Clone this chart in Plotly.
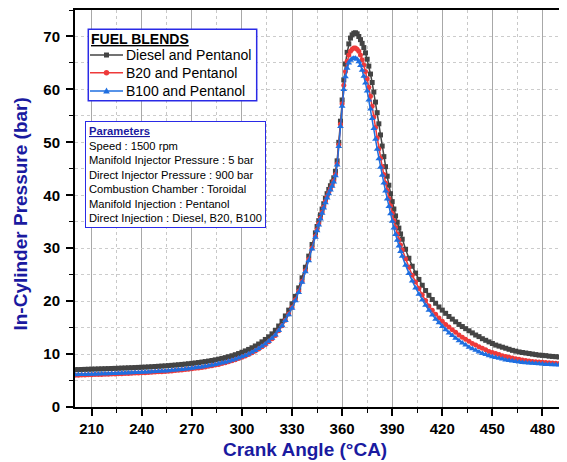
import plotly.graph_objects as go

# Crank angle grid (deg CA): 2-deg steps, 1-deg steps around combustion, 2-deg steps after
crank_angle = list(range(200, 345, 2)) + list(range(345, 397)) + list(range(398, 497, 2))

diesel_pentanol = [
    # 200-344 (2 deg)
    7.05, 7.07, 7.09, 7.11, 7.13, 7.15, 7.17, 7.19, 7.21, 7.23,
    7.25, 7.27, 7.30, 7.32, 7.35, 7.37, 7.40, 7.42, 7.45, 7.48,
    7.51, 7.54, 7.57, 7.61, 7.65, 7.69, 7.73, 7.77, 7.82, 7.87,
    7.92, 7.98, 8.04, 8.10, 8.17, 8.24, 8.32, 8.40, 8.49, 8.58,
    8.68, 8.79, 8.91, 9.04, 9.18, 9.33, 9.50, 9.68, 9.88, 10.10,
    10.34, 10.60, 10.88, 11.19, 11.53, 11.90, 12.31, 12.76, 13.26, 13.82,
    14.45, 15.3, 16.2, 17.2, 18.3, 19.5, 20.9, 22.5, 24.4, 26.4,
    28.5, 30.7, 32.9,
    # 345-396 (1 deg)
    34.1, 35.2, 36.3, 37.4, 38.4, 39.4, 40.3, 41.1, 41.8, 42.5, 43.3, 44.5, 46.5,
    50.0, 54.0, 58.0, 61.8, 64.8, 67.0, 68.6, 69.7, 70.3, 70.6,
    70.7, 70.5, 70.0, 69.4, 68.7, 67.9, 66.9, 65.7, 64.4, 62.9,
    61.3, 59.5, 57.6, 55.6, 53.5, 51.4, 49.3, 47.3, 45.4, 43.6,
    41.9, 40.3, 38.8, 37.4, 36.1, 34.9, 33.8, 32.7, 31.7,
    # 398-496 (2 deg)
    29.8, 28.1, 26.6, 25.3, 24.1, 23.0, 22.0, 21.1, 20.3, 19.6,
    18.9, 18.3, 17.7, 17.1, 16.6, 16.1, 15.6, 15.2, 14.8, 14.4,
    14.0, 13.6, 13.3, 12.9, 12.6, 12.3, 12.0, 11.7, 11.5, 11.3,
    11.1, 10.9, 10.7, 10.55, 10.4, 10.3, 10.2, 10.1, 10.0, 9.9,
    9.8, 9.75, 9.7, 9.6, 9.55, 9.5, 9.45, 9.4, 9.35, 9.3,
]

b20_pentanol = [
    6.00, 6.02, 6.04, 6.06, 6.08, 6.10, 6.12, 6.14, 6.16, 6.18,
    6.20, 6.22, 6.25, 6.27, 6.30, 6.32, 6.35, 6.37, 6.40, 6.43,
    6.46, 6.49, 6.52, 6.56, 6.60, 6.64, 6.68, 6.72, 6.77, 6.82,
    6.88, 6.94, 7.00, 7.07, 7.14, 7.22, 7.30, 7.39, 7.48, 7.58,
    7.69, 7.80, 7.92, 8.05, 8.20, 8.36, 8.53, 8.72, 8.92, 9.14,
    9.38, 9.65, 9.93, 10.24, 10.58, 10.95, 11.36, 11.82, 12.32, 12.88,
    13.52, 14.40, 15.35, 16.40, 17.55, 18.80, 20.25, 21.85, 23.75, 25.75,
    27.85, 30.05, 32.25,
    33.5, 34.6, 35.7, 36.8, 37.8, 38.8, 39.7, 40.5, 41.2, 41.9, 42.7, 43.9, 45.9,
    49.5, 53.4, 57.3, 60.8, 63.4, 65.3, 66.5, 67.2, 67.6, 67.8,
    67.8, 67.6, 67.2, 66.5, 65.6, 64.6, 63.4, 62.0, 60.4, 58.7,
    56.8, 54.8, 52.8, 50.8, 48.8, 47.0, 45.4, 43.9, 42.3, 40.9,
    39.4, 38.0, 36.6, 35.2, 33.9, 32.7, 31.6, 30.6, 29.7,
    28.0, 26.4, 24.9, 23.6, 22.4, 21.2, 20.1, 19.1, 18.3, 17.5,
    16.8, 16.2, 15.6, 15.1, 14.6, 14.1, 13.6, 13.2, 12.8, 12.4,
    12.0, 11.7, 11.4, 11.1, 10.8, 10.5, 10.3, 10.1, 9.9, 9.7,
    9.55, 9.4, 9.25, 9.1, 9.0, 8.9, 8.8, 8.7, 8.6, 8.55,
    8.5, 8.45, 8.4, 8.35, 8.3, 8.27, 8.24, 8.21, 8.18, 8.15,
]

b100_pentanol = [
    6.10, 6.12, 6.14, 6.16, 6.18, 6.20, 6.22, 6.24, 6.26, 6.28,
    6.30, 6.32, 6.35, 6.37, 6.40, 6.42, 6.45, 6.47, 6.50, 6.53,
    6.56, 6.59, 6.62, 6.66, 6.70, 6.74, 6.78, 6.82, 6.87, 6.92,
    6.98, 7.04, 7.10, 7.17, 7.24, 7.32, 7.40, 7.49, 7.58, 7.68,
    7.79, 7.90, 8.02, 8.15, 8.30, 8.46, 8.63, 8.82, 9.02, 9.24,
    9.48, 9.75, 10.03, 10.34, 10.68, 11.05, 11.46, 11.92, 12.42, 12.98,
    13.62, 14.45, 15.35, 16.35, 17.45, 18.65, 20.05, 21.65, 23.55, 25.55,
    27.65, 29.85, 32.05,
    33.3, 34.4, 35.5, 36.6, 37.6, 38.6, 39.5, 40.3, 41.0, 41.7, 42.5, 43.7, 45.7,
    49.2, 53.0, 56.8, 60.0, 62.4, 64.0, 65.0, 65.5, 65.8, 65.9,
    65.9, 65.7, 65.2, 64.5, 63.6, 62.5, 61.2, 59.7, 58.0, 56.3,
    54.5, 52.6, 50.6, 48.7, 46.9, 45.3, 43.8, 42.3, 40.8, 39.3,
    37.9, 36.5, 35.1, 33.8, 32.6, 31.5, 30.4, 29.4, 28.5,
    26.8, 25.2, 23.8, 22.5, 21.3, 20.2, 19.2, 18.3, 17.4, 16.6,
    15.9, 15.2, 14.6, 14.0, 13.5, 13.0, 12.5, 12.1, 11.7, 11.3,
    11.0, 10.7, 10.4, 10.1, 9.9, 9.7, 9.5, 9.35, 9.2, 9.05,
    8.9, 8.8, 8.7, 8.6, 8.5, 8.4, 8.35, 8.3, 8.25, 8.2,
    8.15, 8.1, 8.05, 8.02, 8.0, 7.97, 7.95, 7.93, 7.91, 7.9,
]

series_names = ["Diesel and Pentanol", "B20 and Pentanol", "B100 and Pentanol"]
series_values = [diesel_pentanol, b20_pentanol, b100_pentanol]
series_colors = ["#444444", "#ee3a3a", "#1f6fe0"]
series_symbols = ["square", "circle", "triangle-up"]
series_sizes = [5, 5, 6]

x_tick_vals = [210, 240, 270, 300, 330, 360, 390, 420, 450, 480]
y_tick_vals = [0, 10, 20, 30, 40, 50, 60, 70]

legend_title = "FUEL BLENDS"
param_title = "Parameters"
param_lines = [
    "Speed : 1500 rpm",
    "Manifold Injector Pressure : 5 bar",
    "Direct Injector Pressure : 900 bar",
    "Combustion Chamber : Toroidal",
    "Manifold Injection : Pentanol",
    "Direct Injection : Diesel, B20, B100",
]

FONT = "Arial, Liberation Sans, sans-serif"
TITLE_BLUE = "#1a1aa0"
BOX_BLUE = "#2a2ae6"

fig = go.Figure()
for name, vals, col, sym, sz in zip(series_names, series_values, series_colors, series_symbols, series_sizes):
    fig.add_trace(go.Scatter(
        x=crank_angle, y=vals, name=name, mode="lines+markers",
        line=dict(color=col, width=1.5),
        marker=dict(symbol=sym, size=sz, color=col, line=dict(width=0)),
        showlegend=False,
    ))

# page body has an 8px default margin, so the figure is sized/offset to compensate
fig.update_layout(
    width=559, height=454,
    margin=dict(l=67, r=0, t=2, b=55),
    paper_bgcolor="white", plot_bgcolor="white",
    font=dict(family=FONT, color="black"),
    showlegend=False,
    xaxis=dict(
        range=[200, 494.7], tickvals=x_tick_vals,
        showline=True, linecolor="black", linewidth=2, mirror=True,
        ticks="outside", ticklen=7, tickwidth=1.5, tickcolor="black",
        tickfont=dict(family=FONT, size=15, color="black", weight="bold"),
        showgrid=True, gridcolor="#a8a8a8", gridwidth=1.2,
        zeroline=False,
        minor=dict(dtick=15, tick0=195, ticks="outside", ticklen=4, tickwidth=1.2, tickcolor="black",
                   showgrid=True, gridcolor="#c8c8c8", griddash="dot", gridwidth=1),
    ),
    yaxis=dict(
        range=[0, 75], tickvals=y_tick_vals,
        showline=True, linecolor="black", linewidth=2, mirror=False,
        ticks="outside", ticklen=7, tickwidth=1.5, tickcolor="black",
        tickfont=dict(family=FONT, size=15, color="black", weight="bold"),
        showgrid=True, gridcolor="#cccccc", griddash="dot", gridwidth=1,
        zeroline=False, ticklabelstandoff=3,
        minor=dict(dtick=5, tick0=0, ticks="outside", ticklen=4, tickwidth=1.2, tickcolor="black",
                   showgrid=True, gridcolor="#cccccc", griddash="dot", gridwidth=1),
    ),
)

# axis titles
fig.add_annotation(
    xref="paper", yref="paper", x=0.4675, y=-0.106, xanchor="center", yanchor="middle",
    text="<b>Crank Angle (°CA)</b>", showarrow=False,
    font=dict(family=FONT, size=19, color=TITLE_BLUE),
)
fig.add_annotation(
    xref="paper", yref="paper", x=-0.11, y=0.487, xanchor="center", yanchor="middle",
    text="<b>In-Cylinder Pressure (bar)</b>", showarrow=False, textangle=-90,
    font=dict(family=FONT, size=19, color=TITLE_BLUE),
)

# legend box (drawn in paper coordinates to match the compact original layout)
fig.add_shape(type="rect", xref="paper", yref="paper", x0=0.027, x1=0.3693, y0=0.7715, y1=0.9514,
              line=dict(color=BOX_BLUE, width=1.5), fillcolor="white", layer="above")
fig.add_annotation(
    xref="paper", yref="paper", x=0.028, y=0.927, xanchor="left", yanchor="middle",
    text="<b><span style='text-decoration:underline'>%s</span></b>" % legend_title, showarrow=False,
    font=dict(family=FONT, size=14, color="black"),
)
legend_rows_y = [0.8866, 0.8421, 0.7960]
for name, col, sym, sz, ly in zip(series_names, series_colors, series_symbols, series_sizes, legend_rows_y):
    fig.add_shape(type="line", xref="paper", yref="paper", x0=0.0305, x1=0.0976, y0=ly, y1=ly,
                  line=dict(color=col, width=1.5), layer="above")
    if sym == "square":
        fig.add_shape(type="rect", xref="paper", yref="paper", xsizemode="pixel", ysizemode="pixel",
                      xanchor=0.064, yanchor=ly, x0=-2.5, x1=2.5, y0=-2.5, y1=2.5,
                      line=dict(width=0), fillcolor=col, layer="above")
    elif sym == "circle":
        fig.add_shape(type="circle", xref="paper", yref="paper", xsizemode="pixel", ysizemode="pixel",
                      xanchor=0.064, yanchor=ly, x0=-2.7, x1=2.7, y0=-2.7, y1=2.7,
                      line=dict(width=0), fillcolor=col, layer="above")
    else:
        fig.add_shape(type="path", xref="paper", yref="paper", xsizemode="pixel", ysizemode="pixel",
                      xanchor=0.064, yanchor=ly, path="M -3.3 -2.6 L 3.3 -2.6 L 0 3.4 Z",
                      line=dict(width=0), fillcolor=col, layer="above")
    fig.add_annotation(
        xref="paper", yref="paper", x=0.1006, y=ly, xanchor="left", yanchor="middle",
        text=name, showarrow=False, font=dict(family=FONT, size=14, color="black"),
    )

# parameters box
param_text = ("<b><span style='color:%s;text-decoration:underline'>%s</span></b><br>" % (TITLE_BLUE, param_title)
              + "<br>".join(param_lines))
fig.add_annotation(
    xref="paper", yref="paper", x=0.0197, y=0.72, xanchor="left", yanchor="top",
    text=param_text, showarrow=False, align="left",
    font=dict(family=FONT, size=11.2, color="black"),
    bgcolor="white", bordercolor=BOX_BLUE, borderwidth=1, borderpad=3,
)

fig.write_html("out.html")
